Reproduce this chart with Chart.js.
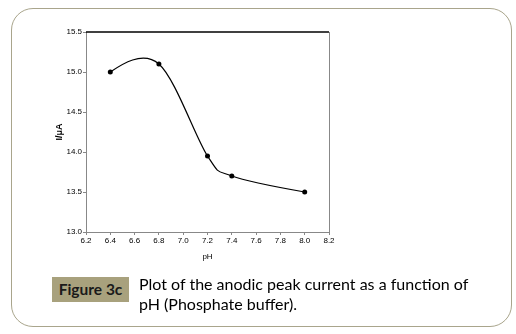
<!DOCTYPE html>
<html>
<head>
<meta charset="utf-8">
<script src="https://cdn.jsdelivr.net/npm/chart.js@4/dist/chart.umd.min.js"></script>
<style>
  html,body{margin:0;padding:0;background:#fff;}
  body{width:516px;height:334px;position:relative;overflow:hidden;}
  #card{position:absolute;left:11px;top:8px;width:501px;height:319px;border:1px solid #a9a58c;border-radius:22px;box-sizing:border-box;}
  #wrap{position:absolute;left:0;top:0;width:516px;height:334px;}
  #fig{position:absolute;left:52px;top:277px;width:77px;height:25px;background:#a8a17d;color:#1a1a1a;font:bold 15.5px Lato, "Open Sans", sans-serif;line-height:25px;text-align:center;}
  #cap{position:absolute;left:139px;top:274px;font:16px Lato, "Open Sans", sans-serif;line-height:20px;color:#000;white-space:nowrap;}
</style>
</head>
<body>
<div id="card"></div>
<div id="wrap"><canvas id="c" width="516" height="334"></canvas></div>
<div id="fig">Figure 3c</div>
<div id="cap">Plot of the anodic peak current as a function of<br>pH (Phosphate buffer).</div>
<script>
const pH = [6.4, 6.8, 7.2, 7.4, 8.0];
const current = [15.0, 15.1, 13.95, 13.7, 13.5];
const xTicks = [6.2, 6.4, 6.6, 6.8, 7.0, 7.2, 7.4, 7.6, 7.8, 8.0, 8.2];
const yTicks = [13.0, 13.5, 14.0, 14.5, 15.0, 15.5];

// Excel-like smoothed line: control points derived from the scaled point positions
const excelSmooth = {
  id: 'excelSmooth',
  beforeDatasetDraw(chart, args) {
    const meta = args.meta, p = meta.data, n = p.length, f = 1 / 6;
    if (n < 3) return;
    for (let i = 1; i < n - 1; i++) {
      const dx = p[i + 1].x - p[i - 1].x, dy = p[i + 1].y - p[i - 1].y;
      p[i].cp1x = p[i].x - dx * f; p[i].cp1y = p[i].y - dy * f;
      p[i].cp2x = p[i].x + dx * f; p[i].cp2y = p[i].y + dy * f;
    }
    p[0].cp1x = p[0].x; p[0].cp1y = p[0].y;
    p[0].cp2x = p[0].x + (p[1].cp1x - p[0].x) / 3;
    p[0].cp2y = p[0].y + (p[1].cp1y - p[0].y) / 3;
    const L = p[n - 1], M = p[n - 2];
    L.cp2x = L.x; L.cp2y = L.y;
    L.cp1x = L.x + (M.cp2x - L.x) / 3;
    L.cp1y = L.y + (M.cp2y - L.y) / 3;
    meta.dataset._pointsUpdated = true;
    meta.dataset._path = undefined;
  }
};

const frame = {
  id: 'frame',
  afterDatasetsDraw(chart) {
    const a = chart.chartArea, ctx = chart.ctx;
    ctx.save();
    ctx.strokeStyle = '#000'; ctx.lineWidth = 1.5;
    ctx.beginPath(); ctx.moveTo(a.left, a.top); ctx.lineTo(a.right, a.top); ctx.stroke();
    ctx.strokeStyle = '#888'; ctx.lineWidth = 1;
    ctx.beginPath(); ctx.moveTo(a.right + 0.5, a.top); ctx.lineTo(a.right + 0.5, a.bottom); ctx.stroke();
    ctx.restore();
  }
};

new Chart(document.getElementById('c'), {
  type: 'scatter',
  data: {
    datasets: [{
      data: pH.map((x, i) => ({x: x, y: current[i]})),
      showLine: true,
      tension: 0.4,
      borderColor: '#000',
      borderWidth: 1.2,
      pointRadius: 2.5,
      pointBackgroundColor: '#000',
      pointBorderColor: '#000',
      pointBorderWidth: 0
    }]
  },
  options: {
    responsive: false,
    animation: false,
    devicePixelRatio: 1,
    layout: {padding: {left: 54, right: 187, top: 32, bottom: 72}},
    plugins: {legend: {display: false}, tooltip: {enabled: false}},
    scales: {
      x: {
        type: 'linear', min: 6.2, max: 8.2,
        afterBuildTicks(s) { s.ticks = xTicks.map(v => ({value: v})); },
        afterFit(s) { s.height = 30; },
        ticks: {callback: v => v.toFixed(1), color: '#000', font: {family: 'Liberation Sans', size: 8}, padding: 1, maxRotation: 0, autoSkip: false},
        grid: {drawOnChartArea: false, tickLength: 3, color: '#888'},
        border: {color: '#888', width: 1},
        title: {display: true, text: 'pH', color: '#000', font: {family: 'Liberation Sans', size: 8}, padding: {top: 5, bottom: 0}}
      },
      y: {
        type: 'linear', min: 13.0, max: 15.5,
        afterBuildTicks(s) { s.ticks = yTicks.map(v => ({value: v})); },
        afterFit(s) { s.width = 32; },
        ticks: {callback: v => v.toFixed(1), color: '#000', font: {family: 'Liberation Sans', size: 8}, padding: 1, autoSkip: false},
        grid: {drawOnChartArea: false, tickLength: 3, color: '#888'},
        border: {color: '#888', width: 1},
        title: {display: true, text: 'I/μA', color: '#000', font: {family: 'Liberation Sans', size: 9, weight: 'bold'}, padding: {top: 0, bottom: 0}}
      }
    }
  },
  plugins: [excelSmooth, frame]
});
</script>
</body>
</html>
